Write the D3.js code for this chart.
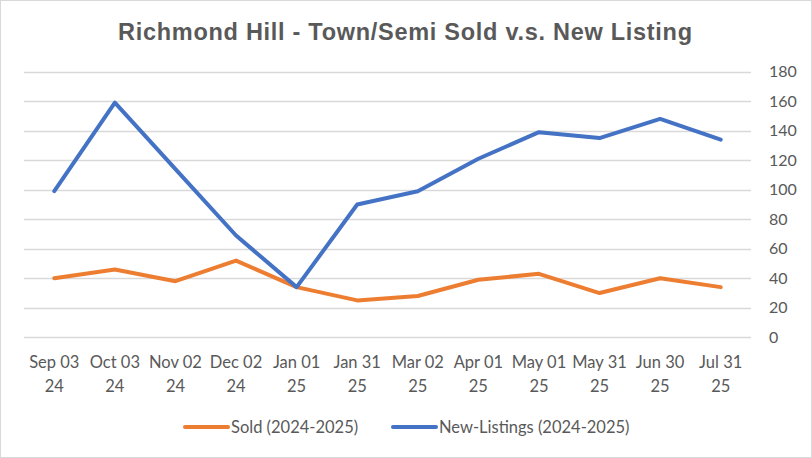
<!DOCTYPE html>
<html>
<head>
<meta charset="utf-8">
<script src="https://cdn.jsdelivr.net/npm/d3@7"></script>
<style>
  body { margin: 0; background: #fff; }
  svg { display: block; }
</style>
</head>
<body>
<svg width="812" height="458"></svg>
<script>
var dates = ["Sep 03 24", "Oct 03 24", "Nov 02 24", "Dec 02 24", "Jan 01 25", "Jan 31 25",
  "Mar 02 25", "Apr 01 25", "May 01 25", "May 31 25", "Jun 30 25", "Jul 31 25"];
var sold = [40, 46, 38, 52, 34, 25, 28, 39, 43, 30, 40, 34];
var newListings = [99, 159, 114, 69, 34, 90, 99, 121, 139, 135, 148, 134];
var yTicks = [0, 20, 40, 60, 80, 100, 120, 140, 160, 180];
var seriesNames = ["Sold (2024-2025)", "New-Listings (2024-2025)"];

var svg = d3.select("svg"),
  width = +svg.attr("width"),
  height = +svg.attr("height");

var grey = "#595959",
  font = "Lato, 'Open Sans', sans-serif";

// chart border
svg.append("rect")
  .attr("x", 0.5).attr("y", 0.5)
  .attr("width", width - 1).attr("height", height - 1)
  .attr("fill", "#fff")
  .attr("stroke", "#d9d9d9");

// title
svg.append("text")
  .attr("x", 118)
  .attr("y", 39.5)
  .attr("textLength", 574)
  .attr("lengthAdjust", "spacing")
  .style("font-family", "'Liberation Sans', Arial, sans-serif")
  .style("font-weight", "bold")
  .style("font-size", "23.5px")
  .style("fill", grey)
  .text("Richmond Hill - Town/Semi Sold v.s. New Listing");

var xScale = d3.scalePoint().domain(dates).range([24, 751]).padding(0.5),
  yScale = d3.scaleLinear().domain([0, 180]).range([337.3, 71.7]);

// gridlines
svg.append("g")
  .selectAll("line")
  .data(yTicks)
  .enter()
  .append("line")
  .attr("x1", 24)
  .attr("x2", 751)
  .attr("y1", function (d) { return Math.round(yScale(d)) + 0.5; })
  .attr("y2", function (d) { return Math.round(yScale(d)) + 0.5; })
  .attr("stroke", "#d9d9d9")
  .attr("stroke-width", 1.3);

// right axis
var yAxis = svg.append("g")
  .attr("transform", "translate(751,0)")
  .call(d3.axisRight(yScale).tickValues(yTicks).tickSize(0).tickPadding(18));
yAxis.select(".domain").remove();
yAxis.selectAll("text")
  .style("font-family", font)
  .style("font-size", "16px")
  .style("fill", grey);

// x labels, two lines each
var xLabels = svg.append("g")
  .selectAll("text")
  .data(dates)
  .enter()
  .append("text")
  .attr("text-anchor", "middle")
  .style("font-family", font)
  .style("font-size", "16.5px")
  .style("fill", grey);
xLabels.append("tspan")
  .attr("x", function (d) { return xScale(d); })
  .attr("y", 368)
  .text(function (d) { return d.slice(0, d.lastIndexOf(" ")); });
xLabels.append("tspan")
  .attr("x", function (d) { return xScale(d); })
  .attr("y", 391.5)
  .text(function (d) { return d.slice(d.lastIndexOf(" ") + 1); });

// lines
var line = d3.line()
  .x(function (d, i) { return xScale(dates[i]); })
  .y(function (d) { return yScale(d); });

var colors = ["#ED7D31", "#4472C4"];
[sold, newListings].forEach(function (s, k) {
  svg.append("path")
    .datum(s)
    .attr("d", line)
    .attr("fill", "none")
    .attr("stroke", colors[k])
    .attr("stroke-width", 4)
    .attr("stroke-linejoin", "round")
    .attr("stroke-linecap", "round");
});

// legend
var legendX = [185, 393];
seriesNames.forEach(function (name, k) {
  var g = svg.append("g").attr("transform", "translate(" + legendX[k] + ",427)");
  g.append("line")
    .attr("x1", 0).attr("x2", 43)
    .attr("stroke", colors[k])
    .attr("stroke-width", 4)
    .attr("stroke-linecap", "round");
  g.append("text")
    .attr("x", 46)
    .attr("dy", "0.35em")
    .style("font-family", font)
    .style("font-size", "16.5px")
    .style("fill", grey)
    .text(name);
});
</script>
</body>
</html>
